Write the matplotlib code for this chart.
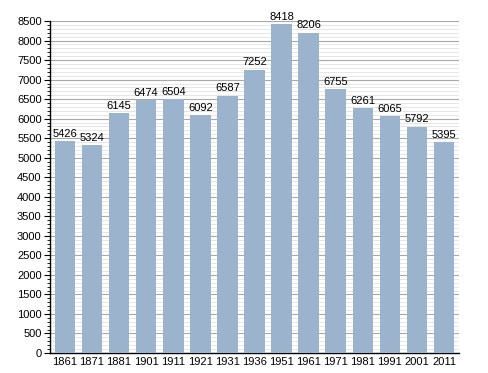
import matplotlib
matplotlib.use("Agg")
import matplotlib.pyplot as plt
from matplotlib.ticker import MultipleLocator

years = ["1861", "1871", "1881", "1901", "1911", "1921", "1931", "1936",
         "1951", "1961", "1971", "1981", "1991", "2001", "2011"]
population = [5426, 5324, 6145, 6474, 6504, 6092, 6587, 7252,
              8418, 8206, 6755, 6261, 6065, 5792, 5395]

plt.rcParams['font.family'] = ['Liberation Sans', 'DejaVu Sans']

fig = plt.figure(figsize=(4.88, 3.73), dpi=100)
ax = fig.add_axes([0.1025, 0.0536, 0.838, 0.89])

x = range(len(years))
ax.bar(x, population, width=0.76, color='#9bb3cd', zorder=3)
for i, v in zip(x, population):
    ax.text(i, v + 60, str(v), ha='center', va='bottom', fontsize=8, zorder=4)

ax.set_xlim(-0.55, len(years) - 0.45)
ax.set_ylim(0, 8500)
ax.set_xticks(list(x))
ax.set_xticklabels(years)
ax.yaxis.set_major_locator(MultipleLocator(500))
ax.yaxis.set_minor_locator(MultipleLocator(100))
ax.grid(axis='y', which='major', color='#a8a8a8', linewidth=0.8, zorder=0)
ax.grid(axis='y', which='minor', color='#e2e2e2', linewidth=0.6, zorder=0)

for s in ['top', 'right']:
    ax.spines[s].set_visible(False)
ax.spines['left'].set_linewidth(1.0)
ax.spines['bottom'].set_linewidth(1.0)
ax.tick_params(axis='y', which='major', length=4, labelsize=8, pad=2)
ax.tick_params(axis='y', which='minor', length=2)
ax.tick_params(axis='x', length=0, labelsize=8, pad=3)

fig.savefig('out.png', dpi=100)
